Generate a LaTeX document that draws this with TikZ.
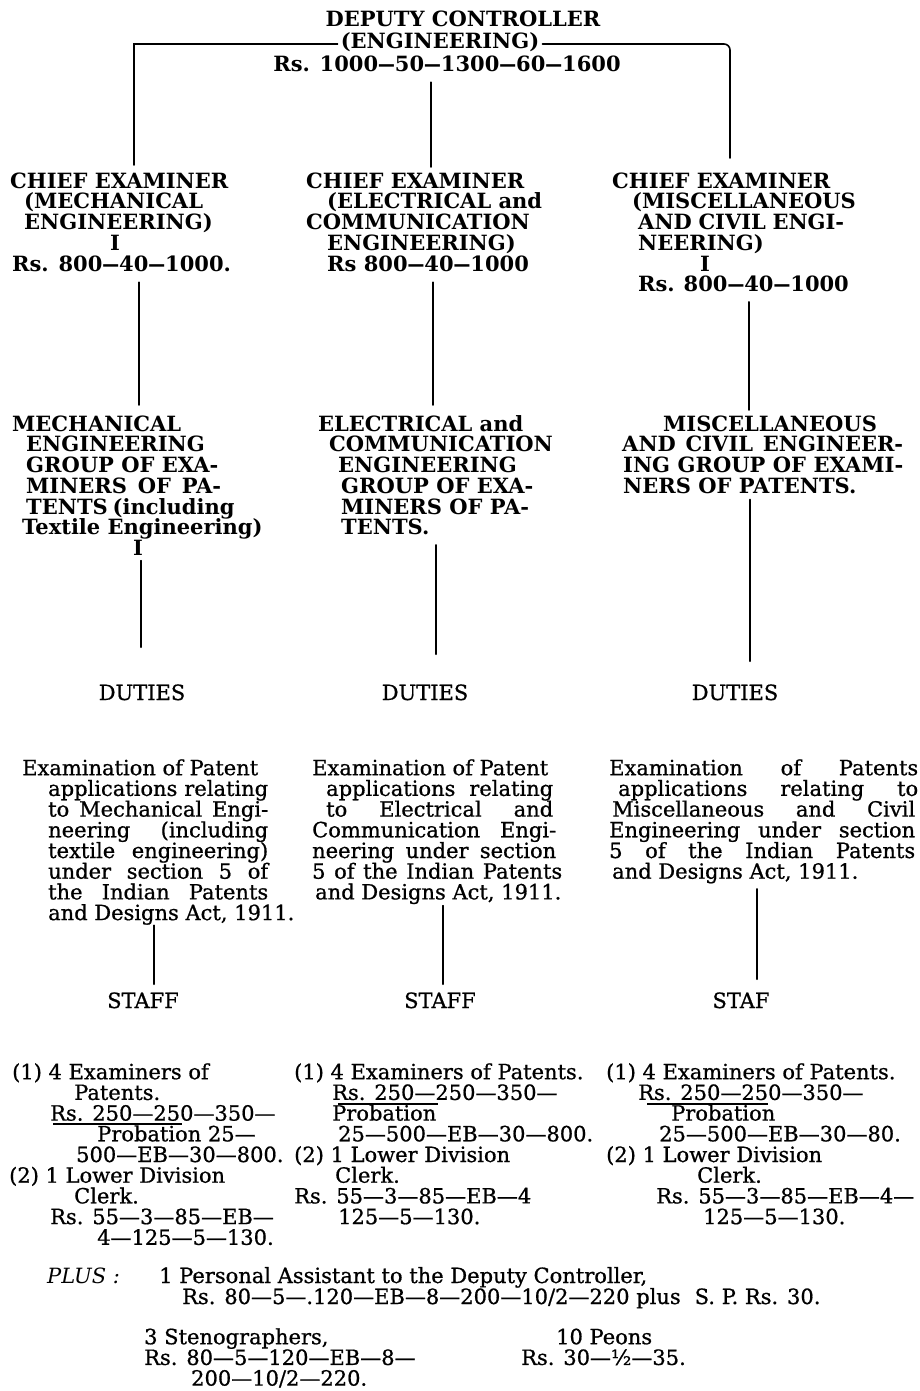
\documentclass[tikz,border=0pt]{standalone}
\usepackage{fontspec}
\setmainfont{DejaVu Serif}[UprightFeatures={FakeBold=0.8}]
\usepackage{graphicx}
\newcommand\D{\scalebox{0.8}[1]{—}}
\newcommand\T{\rule{0pt}{17pt}}
\newcommand\B{\rule[-5pt]{0pt}{5pt}}
\newcommand\I[1]{\hspace*{#1pt}}
\newcommand\J[2]{\makebox[#1pt][s]{#2}}
\newcommand\fnt{\fontsize{21}{20.7}\selectfont}
\lineskiplimit=-50pt
\tikzset{
  hd/.style={font=\bfseries\fnt, inner sep=0pt, align=left},
  tx/.style={font=\fnt, inner sep=0pt, align=left},
  blk/.style={anchor=north west},
  conn/.style={line width=1.6pt, line cap=round},
  uline/.style={line width=1.2pt}
}
\begin{document}
\begin{tikzpicture}[x=1pt,y=-1pt]
\useasboundingbox (0,0) rectangle (919,1391);
\fill[white] (0,0) rectangle (919,1391);
% top
\node[hd, anchor=base] (dc) at (463,27) {DEPUTY CONTROLLER};
\node[hd, anchor=base, inner xsep=3pt] (eng) at (440,49) {(ENGINEERING)};
\node[hd, anchor=base] (rs) at (447,72) {Rs. 1000\D50\D1300\D60\D1600\B};
% chief examiners
\node[hd, blk] (ch1) at (10,171) {\T CHIEF EXAMINER\\ \I{14}(MECHANICAL\\ \I{14}ENGINEERING)\\ \I{100}I\\ \I{2}Rs. 800\D40\D1000.\B};
\node[hd, blk] (ch2) at (306,171) {\T CHIEF EXAMINER\\ \I{21}(ELECTRICAL and\\ COMMUNICATION\\ \I{21}ENGINEERING)\\ \I{21}Rs 800\D40\D1000\B};
\node[hd, blk] (ch3) at (612,171) {\T CHIEF EXAMINER\\ \I{20}(MISCELLANEOUS\\ \I{26}\J{206}{AND CIVIL ENGI-}\\ \I{26}NEERING)\\ \I{88}I\\ \I{26}\J{206}{Rs. 800\D40\D1000}\B};
% groups
\node[hd, blk] (g1) at (12,414) {\T MECHANICAL\\ \I{14}ENGINEERING\\ \I{14}GROUP OF EXA-\\ \I{14}\J{195}{MINERS OF PA-}\\ \I{14}\J{198}{TENTS (including}\\ \I{10}Textile Engineering)\\ \I{121}I\B};
\node[hd, blk] (g2) at (318,414) {\T ELECTRICAL and\\ \I{11}COMMUNICATION\\ \I{20}ENGINEERING\\ \I{23}GROUP OF EXA-\\ \I{23}MINERS OF PA-\\ \I{23}TENTS.\B};
\node[hd, blk] (g3) at (622,414) {\T\I{41}MISCELLANEOUS\\ \J{281}{AND CIVIL ENGINEER-}\\ \I{1}\J{280}{ING GROUP OF EXAMI-}\\ \I{1}NERS OF PATENTS.\B};
% duties
\node[tx, anchor=base] (d1) at (142,700) {DUTIES};
\node[tx, anchor=base] (d2) at (425,700) {DUTIES};
\node[tx, anchor=base] (d3) at (735,700) {DUTIES};
\node[tx, blk] (e1) at (22,758) {\T Examination of Patent\\ \I{26}\J{220}{applications relating}\\ \I{26}\J{220}{to Mechanical Engi-}\\ \I{26}\J{220}{neering (including}\\ \I{26}\J{220}{textile engineering)}\\ \I{26}\J{220}{under section 5 of}\\ \I{26}\J{220}{the Indian Patents}\\ \I{26}and Designs Act, 1911.\B};
\node[tx, blk] (e2) at (312,758) {\T Examination of Patent\\ \I{14}\J{227}{applications relating}\\ \I{14}\J{227}{to Electrical and}\\ \J{244}{Communication Engi-}\\ \J{244}{neering under section}\\ \J{250}{5 of the Indian Patents}\\ \I{3}and Designs Act, 1911.\B};
\node[tx, blk] (e3) at (609,758) {\T\J{309}{Examination of Patents}\\ \I{9}\J{300}{applications relating to}\\ \I{3}\J{303}{Miscellaneous and Civil}\\ \J{306}{Engineering under section}\\ \J{306}{5 of the Indian Patents}\\ \I{3}and Designs Act, 1911.\B};
% staff
\node[tx, anchor=base] (s1) at (143,1008) {STAFF};
\node[tx, anchor=base] (s2) at (440,1008) {STAFF};
\node[tx, anchor=base] (s3) at (741,1008) {STAF};
\node[tx, blk] (st1) at (9,1062) {\T\I{3}(1) 4 Examiners of\\ \I{65}Patents.\\ \I{41}Rs. 250—250—350—\\ \I{88}Probation 25—\\ \I{67}500—EB—30—800.\\ (2) 1 Lower Division\\ \I{65}Clerk.\\ \I{41}Rs. 55—3—85—EB—\\ \I{88}4—125—5—130.\B};
\node[tx, blk] (st2) at (294,1062) {\T(1) 4 Examiners of Patents.\\ \I{38}Rs. 250—250—350—\\ \I{38}Probation\\ \I{44}25—500—EB—30—800.\\ (2) 1 Lower Division\\ \I{41}Clerk.\\ Rs. 55—3—85—EB—4\\ \I{44}125—5—130.\B};
\node[tx, blk] (st3) at (606,1062) {\T(1) 4 Examiners of Patents.\\ \I{32}Rs. 250—250—350—\\ \I{65}Probation\\ \I{53}25—500—EB—30—80.\\ (2) 1 Lower Division\\ \I{91}Clerk.\\ \I{50}Rs. 55—3—85—EB—4—\\ \I{97}125—5—130.\B};
\draw[uline] (53,1124) -- (182,1124);
\draw[uline] (338,1104) -- (438,1104);
\draw[uline] (647,1104) -- (768,1104);
% plus
\node[tx, anchor=base west, font=\itshape\fnt] (plus) at (47,1283) {PLUS :};
\node[tx, anchor=base west] (pa) at (159,1283) {1 Personal Assistant to the Deputy Controller,};
\node[tx, anchor=base west] (pa2) at (182,1304) {Rs. 80—5—.120—EB—8—200—10/2—220 plus\hspace{14pt}S. P. Rs. 30.};
\node[tx, blk] (sten) at (144,1327) {\T 3 Stenographers,\\ Rs. 80—5—120—EB—8—\\ \I{47}200—10/2—220.};
\node[tx, blk] (peon) at (521,1327) {\T\I{35}10 Peons\\ Rs. 30—½—35.};
% connectors
\coordinate (tl) at (134,44);
\coordinate (tr) at (730,44);
\coordinate (m0) at (431,0);
\coordinate (c1) at (139,0);
\coordinate (c2) at (433,0);
\coordinate (c3) at (749,0);
\coordinate (k1) at (141,0);
\coordinate (k2) at (436,0);
\coordinate (k3) at (750,0);
\coordinate (q1) at (154,0);
\coordinate (q2) at (443,0);
\coordinate (q3) at (757,0);
\draw[conn, shorten >=6pt] (tl -| eng.west) -- (tl) -- (tl |- ch1.north);
\draw[conn, rounded corners=6pt, shorten >=13pt] (tr -| eng.east) -- (tr) -- (tr |- ch3.north);
\draw[conn, shorten <=5pt, shorten >=4pt] (rs.south -| m0) -- (ch2.north -| m0);
\draw[conn, shorten <=6pt, shorten >=9pt] (ch1.south -| c1) -- (g1.north -| c1);
\draw[conn, shorten <=6pt, shorten >=9pt] (ch2.south -| c2) -- (g2.north -| c2);
\draw[conn, shorten <=5pt, shorten >=4pt] (ch3.south -| c3) -- (g3.north -| c3);
\draw[conn, shorten >=37pt] (g1.south -| k1) -- (d1.north -| k1);
\draw[conn, shorten <=5pt, shorten >=30pt] (g2.south -| k2) -- (d2.north -| k2);
\draw[conn, shorten <=1pt, shorten >=23pt] (g3.south -| k3) -- (d3.north -| k3);
\draw[conn, shorten >=8pt] (e1.south -| q1) -- (s1.north -| q1);
\draw[conn, shorten <=1pt, shorten >=8pt] (e2.south -| q2) -- (s2.north -| q2);
\draw[conn, shorten <=5pt, shorten >=13pt] (e3.south -| q3) -- (s3.north -| q3);
\end{tikzpicture}
\end{document}
